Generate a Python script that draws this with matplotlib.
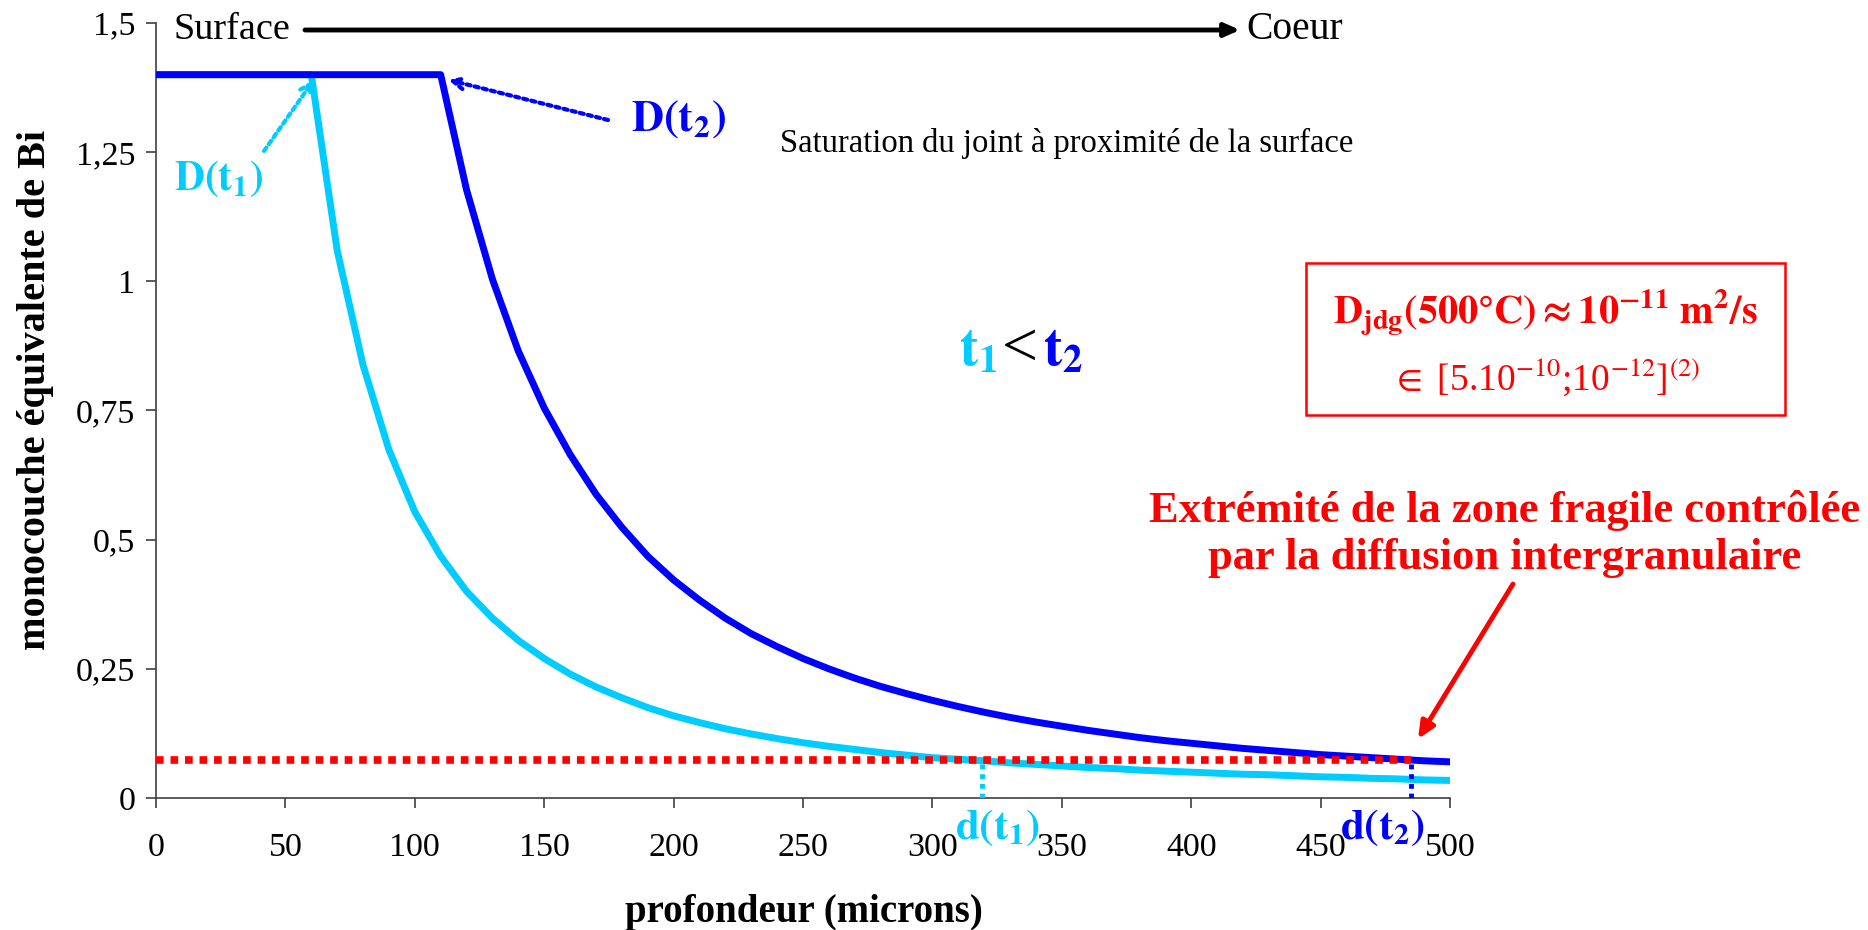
import matplotlib
matplotlib.use("Agg")
import matplotlib.pyplot as plt
import numpy as np

plt.rcParams['font.family'] = ['Liberation Serif', 'DejaVu Serif']
plt.rcParams['mathtext.fontset'] = 'stix'

# ---------------- data ----------------
depth = list(range(0, 510, 10))  # microns

mono_t1 = [1.40, 1.40, 1.40, 1.40, 1.40, 1.40, 1.40,
           1.06, 0.838, 0.674, 0.554, 0.468, 0.400, 0.348, 0.305, 0.270,
           0.240, 0.215, 0.194, 0.175, 0.159, 0.146, 0.134, 0.124, 0.115,
           0.107, 0.100, 0.094, 0.088, 0.083, 0.078, 0.075, 0.072, 0.068,
           0.065, 0.062, 0.059, 0.057, 0.054, 0.052, 0.050, 0.048, 0.046,
           0.045, 0.043, 0.041, 0.040, 0.038, 0.037, 0.035, 0.034]

mono_t2 = [1.40, 1.40, 1.40, 1.40, 1.40, 1.40, 1.40, 1.40, 1.40, 1.40,
           1.40, 1.40,
           1.177, 1.004, 0.865, 0.755, 0.665, 0.588, 0.524, 0.468, 0.422,
           0.383, 0.348, 0.318, 0.293, 0.270, 0.250, 0.232, 0.216, 0.202,
           0.189, 0.177, 0.166, 0.156, 0.147, 0.139, 0.131, 0.124, 0.117,
           0.111, 0.106, 0.101, 0.096, 0.092, 0.088, 0.084, 0.081, 0.078,
           0.075, 0.072, 0.070]

threshold = 0.074
d_t1 = 319
d_t2 = 485

x_ticks = [0, 50, 100, 150, 200, 250, 300, 350, 400, 450, 500]
y_ticks = [0, 0.25, 0.5, 0.75, 1.0, 1.25, 1.5]
y_tick_labels = ['0', '0,25', '0,5', '0,75', '1', '1,25', '1,5']

CYAN = '#00CCFF'
BLUE = '#0000FF'
RED = '#FF0000'

W, H = 1868, 930
fig = plt.figure(figsize=(W / 100, H / 100), dpi=100)
L, R, T, B = 156, 1450, 23, 798
ax = fig.add_axes([L / W, 1 - B / H, (R - L) / W, (B - T) / H])
XS = (R - L) / 500.0   # px per micron
YS = (B - T) / 1.5     # px per unit


def dx(px):
    return (px - L) / XS


def dy(py):
    return (B - py) / YS


ax.plot(depth, mono_t1, color=CYAN, lw=5.0, solid_joinstyle='round', zorder=3)
ax.plot(depth, mono_t2, color=BLUE, lw=5.0, solid_joinstyle='round', zorder=3)

ax.plot([0, d_t2], [threshold, threshold], color=RED, lw=5.5,
        linestyle=(0, (1, 0.9)), zorder=4)
ax.plot([d_t1, d_t1], [0, threshold], color=CYAN, lw=3.5,
        linestyle=(0, (1, 1)), zorder=4)
ax.plot([d_t2, d_t2], [0, threshold], color=BLUE, lw=3.5,
        linestyle=(0, (1, 1)), zorder=4)

ax.set_xlim(0, 500)
ax.set_ylim(0, 1.5)
ax.set_xticks(x_ticks)
ax.set_xticklabels([str(v) for v in x_ticks])
ax.set_yticks(y_ticks)
ax.set_yticklabels(y_tick_labels)
for s in ['top', 'right']:
    ax.spines[s].set_visible(False)
for s in ['left', 'bottom']:
    ax.spines[s].set_color('#404040')
    ax.spines[s].set_linewidth(1.2)
ax.tick_params(axis='both', direction='out', length=7, width=1.2,
               color='#404040', labelsize=24.5)
ax.tick_params(axis='x', pad=18)
ax.tick_params(axis='y', pad=8)

# axis labels
fig.text(36 / W, 1 - 390 / H, 'monocouche équivalente de Bi', rotation=90,
         ha='center', va='center', fontsize=29, fontweight='bold')
fig.text(804 / W, 1 - 912 / H, 'profondeur (microns)',
         ha='center', va='center', fontsize=28, fontweight='bold')

# Surface -> Coeur
ax.text(dx(174), dy(30), 'Surface', ha='left', va='center', fontsize=27.5)
ax.annotate('', xy=(dx(1240), dy(30)), xytext=(dx(305), dy(30)),
            arrowprops=dict(arrowstyle='-|>,head_length=0.9,head_width=0.4',
                            color='black', lw=3.5, shrinkA=0, shrinkB=0))
ax.text(dx(1246), dy(30), 'Coeur', ha='left', va='center', fontsize=28.5)

# D(t1), D(t2)
ax.annotate('', xy=(61, 1.39), xytext=(dx(264), dy(151)),
            arrowprops=dict(arrowstyle='->,head_length=0.8,head_width=0.4',
                            color=CYAN, lw=3.0, linestyle=(0, (1, 1)),
                            shrinkA=0, shrinkB=0))
ax.text(dx(218), dy(179), r'$\mathbf{D(t_1)}$', color=CYAN, ha='center',
        va='center', fontsize=30)
ax.annotate('', xy=(113, 1.39), xytext=(dx(608), dy(120)),
            arrowprops=dict(arrowstyle='->,head_length=0.8,head_width=0.4',
                            color=BLUE, lw=3.0, linestyle=(0, (1, 1)),
                            shrinkA=0, shrinkB=0))
ax.text(dx(631), dy(119), r'$\mathbf{D(t_2)}$', color=BLUE, ha='left',
        va='center', fontsize=32)

ax.text(dx(780), dy(143), 'Saturation du joint à proximité de la surface',
        ha='left', va='center', fontsize=23.5)

# t1 < t2
ty = dy(351)
ax.text(dx(1020), ty, '<', ha='center', va='center', fontsize=46)
ax.text(dx(998), ty, r'$\mathbf{t_1}$', color=CYAN, ha='right',
        va='center', fontsize=40)
ax.text(dx(1043), ty, r'$\mathbf{t_2}$', color=BLUE, ha='left',
        va='center', fontsize=40)

# red box
box_x0, box_x1 = dx(1306), dx(1785)
box_y0, box_y1 = dy(415), dy(263)
ax.add_patch(plt.Rectangle((box_x0, box_y0), box_x1 - box_x0,
                           box_y1 - box_y0, fill=False, edgecolor=RED,
                           lw=1.8, clip_on=False))
bx = (box_x0 + box_x1) / 2
ax.text(bx, dy(313),
        r'$\mathbf{D_{jdg}(500°C) \approx 10^{-11}\ m^2/s}$',
        color=RED, ha='center', va='center', fontsize=29, clip_on=False)
ax.text(bx, dy(378), r'$\in$ [5.10$^{-10}$;10$^{-12}$]$^{(2)}$',
        color=RED, ha='center', va='center', fontsize=27, clip_on=False)

# Extremity text
ax.text(dx(1505), dy(534),
        'Extrémité de la zone fragile contrôlée\npar la diffusion intergranulaire',
        color=RED, ha='center', va='center', fontsize=32, fontweight='bold',
        linespacing=1.2, clip_on=False)
ax.annotate('', xy=(dx(1418), dy(739)), xytext=(dx(1513), dy(584)),
            arrowprops=dict(arrowstyle='-|>,head_length=1.0,head_width=0.45',
                            color=RED, lw=3.5, shrinkA=0, shrinkB=0))

# d(t1), d(t2)
ax.text(dx(997), dy(828), r'$\mathbf{d(t_1)}$', color=CYAN, ha='center',
        va='center', fontsize=31, clip_on=False)
ax.text(dx(1382), dy(828), r'$\mathbf{d(t_2)}$', color=BLUE, ha='center',
        va='center', fontsize=31, clip_on=False)

fig.savefig('out.png', dpi=100)
